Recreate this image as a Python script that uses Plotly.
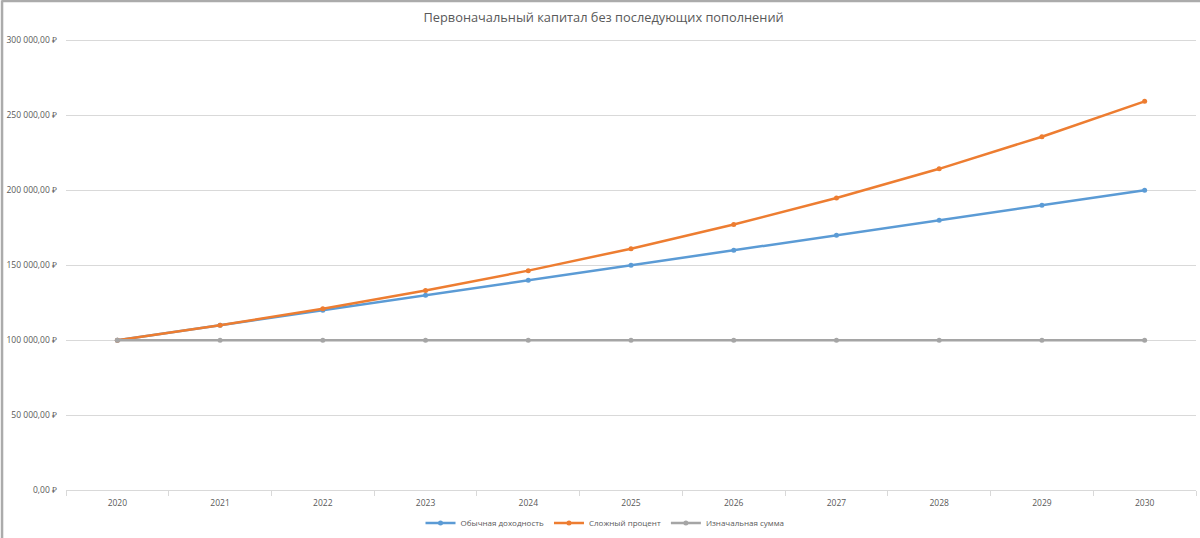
import plotly.graph_objects as go

# Данные графика
years = ["2020", "2021", "2022", "2023", "2024", "2025", "2026", "2027", "2028", "2029", "2030"]
simple = [100000, 110000, 120000, 130000, 140000, 150000, 160000, 170000, 180000, 190000, 200000]
compound = [100000, 110000, 121000, 133100, 146410, 161051, 177156.1, 194871.71, 214358.88, 235794.77, 259374.25]
initial = [100000, 100000, 100000, 100000, 100000, 100000, 100000, 100000, 100000, 100000, 100000]
y_ticks = [0, 50000, 100000, 150000, 200000, 250000, 300000]


def rub(v):
    # 300000 -> "300 000,00 ₽"
    return f"{v:,.2f}".replace(",", " ").replace(".", ",") + " ₽"


series = [
    ("Обычная доходность", simple, "#5B9BD5"),
    ("Сложный процент", compound, "#ED7D31"),
    ("Изначальная сумма", initial, "#A5A5A5"),
]

fig = go.Figure()
for name, vals, color in series:
    fig.add_trace(go.Scatter(
        x=years, y=vals, name=name, mode="lines+markers",
        line=dict(color=color, width=2.5),
        marker=dict(color=color, size=5),
    ))

font_name = "Open Sans"
text_color = "#595959"

fig.update_layout(
    width=1200, height=538,
    margin=dict(l=66, r=4, t=39, b=48, autoexpand=False),
    paper_bgcolor="white", plot_bgcolor="white",
    title=dict(text="Первоначальный капитал без последующих пополнений",
               x=0.503, xanchor="center", y=0.968, yanchor="middle",
               font=dict(family=font_name, size=12.8, color=text_color)),
    font=dict(family=font_name, size=9, color=text_color),
    showlegend=True,
    legend=dict(orientation="h", x=0.477, xanchor="center",
                yref="container", y=0.028, yanchor="middle",
                font=dict(size=8, color=text_color), itemwidth=30,
                traceorder="normal"),
)

fig.update_xaxes(
    type="category", range=[-0.5, len(years) - 0.5],
    showgrid=False, showline=True, linecolor="#D9D9D9", linewidth=1,
    ticks="outside", tickson="boundaries", ticklen=5, tickcolor="#D9D9D9",
    tickfont=dict(size=8.5, color=text_color), ticklabelstandoff=5,
    zeroline=False, automargin=False,
)
fig.update_yaxes(
    range=[0, 301000], tickvals=y_ticks, ticktext=[rub(v) for v in y_ticks],
    showgrid=True, gridcolor="#D9D9D9", gridwidth=1, zeroline=False, showline=False,
    tickfont=dict(size=8.5, color=text_color), ticklabelstandoff=8, automargin=False,
)

# рамка выделенной диаграммы (слева и сверху)
fig.add_shape(type="line", xref="paper", yref="paper", x0=-0.0566, x1=-0.0566,
              y0=1.086, y1=-0.107, line=dict(color="#ABABAB", width=2.5))
fig.add_shape(type="line", xref="paper", yref="paper", x0=-0.0566, x1=1.004,
              y0=1.084, y1=1.084, line=dict(color="#ABABAB", width=2.5))

fig.write_html("out.html", config={"responsive": False, "displayModeBar": False},
               post_script="document.body.style.margin='0';document.body.style.overflow='hidden';")
